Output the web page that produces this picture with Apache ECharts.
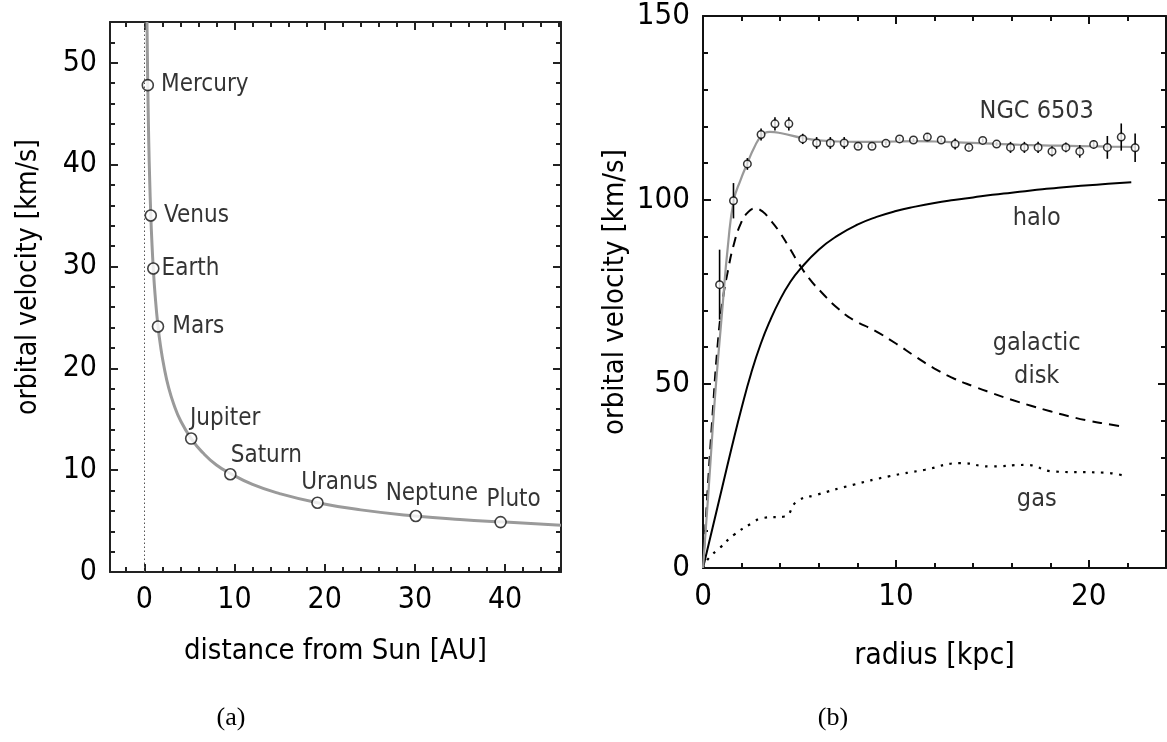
<!DOCTYPE html>
<html>
<head>
<meta charset="utf-8">
<script src="https://cdn.jsdelivr.net/npm/echarts@6/dist/echarts.min.js"></script>
<style>
html,body{margin:0;padding:0;background:#fff;}
#chart{width:1167px;height:742px;}
</style>
</head>
<body>
<div id="chart"></div>
<script>
// ---------- Panel (a): Solar system ----------
const planetNames = ['Mercury','Venus','Earth','Mars','Jupiter','Saturn','Uranus','Neptune','Pluto'];
const planetDist  = [0.39, 0.72, 1.0, 1.52, 5.2, 9.54, 19.2, 30.1, 39.5];   // AU
const planetVel   = [47.8, 35.0, 29.8, 24.1, 13.1, 9.6, 6.8, 5.5, 4.9];     // km/s

const keplerDist = [0.30,0.35,0.40,0.50,0.60,0.72,0.85,1.0,1.2,1.5,1.8,2.2,2.7,3.3,4.0,5.2,6.5,8.0,9.5,12,15,19.2,24,30,35,40,46.2];
const keplerVel  = [54.0,50.4,47.1,42.1,38.5,35.1,32.3,29.8,27.2,24.3,22.2,20.1,18.1,16.4,14.9,13.1,11.7,10.5,9.7,8.6,7.7,6.8,6.1,5.5,5.15,4.9,4.6];

const aXMajor = [0,10,20,30,40];
const aXMinor = [-2,2,4,6,8,12,14,16,18,22,24,26,28,32,34,36,38,42,44,46];
const aYMajor = [0,10,20,30,40,50];
const aYMinor = [2,4,6,8,12,14,16,18,22,24,26,28,32,34,36,38,42,44,46,48,52];

// ---------- Panel (b): NGC 6503 ----------
const ngcRadius = [0.86,1.58,2.30,3.01,3.73,4.45,5.17,5.89,6.60,7.32,8.04,8.76,9.48,10.19,10.91,11.63,12.35,13.07,13.78,14.50,15.22,15.94,16.66,17.37,18.09,18.81,19.53,20.25,20.96,21.68,22.40];
const ngcVel    = [77.0,99.8,109.8,117.8,120.7,120.7,116.6,115.5,115.5,115.5,114.6,114.6,115.4,116.6,116.3,117.1,116.3,115.2,114.3,116.2,115.2,114.3,114.3,114.3,113.2,114.3,113.2,115.1,114.3,117.1,114.2];
const ngcErr    = [9.5,4.8,1.6,1.6,1.8,1.8,1.4,1.6,1.6,1.6,0.5,0.5,0.5,0.5,0.5,1.1,0.5,1.5,0.5,0.5,0.5,1.5,1.5,1.5,1.4,1.3,1.7,1.1,3.1,3.7,3.9];

const fitRadius = [0,0.3,0.6,0.98,1.3,1.6,1.95,2.3,2.65,3.03,3.47,4.0,5.2,6,7,8,9,10,11,12,13,14,15,16,17,18,19,20,21,22.4];
const fitVel    = [0,22,45,69,88,100,105.5,110,114.2,117.4,118.5,118.2,116.8,116.2,115.9,115.8,115.8,115.9,116,115.9,115.7,115.5,115.3,115.1,114.9,114.8,114.7,114.6,114.5,114.4];

const haloRadius = [0,0.5,1,1.5,2,2.5,3,3.5,4,4.5,5,6,7,8,9,10,11,12,13,14,15,16,17,18,19,20,21,22.2];
const haloVel    = [0,11,22,33,43.5,53,61,67.5,73,77.5,81,86.5,90.4,93.3,95.4,97,98.2,99.2,100,100.7,101.4,102,102.6,103.1,103.6,104,104.4,104.8];

const diskRadius = [0,0.25,0.5,0.75,1.0,1.3,1.6,1.95,2.3,2.7,3.1,3.5,3.9,4.4,4.9,5.5,6.2,7.0,7.8,8.9,10,11,12,13,14,15,16,17,18,19,20,21,21.7];
const diskVel    = [0,22,42,60,72,81,88,93.5,96.5,97.7,96.8,94.5,91.8,87.7,83.3,78.7,74.6,70.5,67.4,64.5,61,57.5,54.2,51.5,49.4,47.5,45.7,44.1,42.6,41.2,40,39.1,38.5];

const gasRadius = [0,0.3,0.86,1.6,2.54,3.1,4.22,4.87,5.9,7.77,9.63,11.5,13.37,14.86,16.73,18.22,20.84,21.96];
const gasVel    = [0,2.7,5.4,9.0,12.2,13.6,14.0,18.1,19.9,22.6,24.9,26.7,28.5,27.6,28.0,26.2,25.9,24.9];

const bXMajor = [0,10,20];
const bXMinor = [2,4,6,8,12,14,16,18,22,24];
const bYMajor = [0,50,100,150];
const bYMinor = [10,20,30,40,60,70,80,90,110,120,130,140];

const annoText   = ['NGC 6503','halo','galactic','disk','gas'];
const annoRadius = [17.3,17.3,17.3,17.3,17.3];
const annoVel    = [124,95,61.1,52,18.5];

// ---------- styling / layout ----------
const FONT = "'DejaVu Sans Condensed','Liberation Sans Narrow','Arial Narrow',sans-serif";
const TXT = '#000';

function axisSet(kind, grid, min, max, majors, minors, opt) {
  const base = {type:'value', gridIndex:grid, min:min, max:max, scale:false,
    splitLine:{show:false}, splitArea:{show:false}, axisPointer:{show:false}, silent:true};
  const pos = kind === 'x' ? ['bottom','top'] : ['left','right'];
  const line = {show:true, onZero:false, lineStyle:{color:opt.color, width:2}};
  const majTick = {show:true, inside:true, length:opt.majLen, customValues:majors, lineStyle:{color:opt.color, width:2}};
  const minTick = {show:true, inside:true, length:opt.minLen, customValues:minors, lineStyle:{color:opt.color, width:2}};
  return [
    Object.assign({}, base, {position:pos[0], axisLine:line, axisTick:majTick,
      axisLabel:{show:true, customValues:majors, fontSize:opt.labelSize, fontFamily:FONT, color:TXT, margin:opt.labelMargin},
      name:opt.name, nameLocation:'middle', nameGap:opt.nameGap,
      nameTextStyle:{fontSize:opt.nameSize, fontFamily:FONT, color:TXT, padding:opt.namePadding || 0}}),
    Object.assign({}, base, {position:pos[0], axisLine:{show:false, onZero:false}, axisTick:minTick, axisLabel:{show:false}}),
    Object.assign({}, base, {position:pos[1], axisLine:line, axisTick:majTick, axisLabel:{show:false}}),
    Object.assign({}, base, {position:pos[1], axisLine:{show:false, onZero:false}, axisTick:minTick, axisLabel:{show:false}})
  ];
}

const xAxes = [].concat(
  axisSet('x', 0, -3.8, 46.2, aXMajor, aXMinor, {color:'#222', majLen:8, minLen:5, labelSize:30, labelMargin:13, name:'distance from Sun [AU]', nameGap:65, nameSize:29}),
  axisSet('x', 1, 0, 24, bXMajor, bXMinor, {color:'#111', majLen:8, minLen:5, labelSize:31, labelMargin:13, name:'radius [kpc]', nameGap:73, nameSize:30})
);
const yAxes = [].concat(
  axisSet('y', 0, 0, 54, aYMajor, aYMinor, {color:'#222', majLen:8, minLen:5, labelSize:30, labelMargin:13, name:'orbital velocity [km/s]', nameGap:67, nameSize:28, namePadding:[0,0,0,40]}),
  axisSet('y', 1, 0, 150, bYMajor, bYMinor, {color:'#111', majLen:8, minLen:5, labelSize:31, labelMargin:13, name:'orbital velocity [km/s]', nameGap:73, nameSize:29})
);

// label placement for the planet names
const planetLabelPlacement = {
  Mercury:{position:'right', distance:7},
  Venus:{position:'right', distance:7},
  Earth:{position:'right', distance:2},
  Mars:{position:'right', distance:8},
  Jupiter:{position:'inside', offset:[34,-20]},
  Saturn:{position:'inside', offset:[36,-18]},
  Uranus:{position:'inside', offset:[22,-20]},
  Neptune:{position:'inside', offset:[16,-22]},
  Pluto:{position:'inside', offset:[13,-22]}
};

const pairs = (xs, ys) => xs.map((x, i) => [x, ys[i]]);

const option = {
  animation:false,
  backgroundColor:'#fff',
  grid:[
    {left:110, top:22, width:451, height:550, containLabel:false},
    {left:703, top:16, width:463, height:552, containLabel:false}
  ],
  xAxis:xAxes,
  yAxis:yAxes,
  graphic:[
    {type:'text', x:231, y:718, style:{text:'(a)', fill:'#000', font:"26px 'Liberation Serif','DejaVu Serif',serif", align:'center', verticalAlign:'middle'}},
    {type:'text', x:833, y:718, style:{text:'(b)', fill:'#000', font:"26px 'Liberation Serif','DejaVu Serif',serif", align:'center', verticalAlign:'middle'}}
  ],
  series:[
    // ---- panel (a)
    {type:'line', xAxisIndex:0, yAxisIndex:0, data:pairs(keplerDist, keplerVel),
     showSymbol:false, smooth:0.5, lineStyle:{color:'#9a9a9a', width:3}, z:2, silent:true,
     markLine:{silent:true, symbol:'none', label:{show:false}, animation:false,
       lineStyle:{color:'#555', type:[1.5,2.5], width:1}, data:[{xAxis:0}]}},
    {type:'scatter', xAxisIndex:0, yAxisIndex:0, z:4, symbol:'circle', symbolSize:11,
     itemStyle:{color:'#fff', borderColor:'#111', borderWidth:1.6},
     data:planetNames.map((n, i) => ({value:[planetDist[i], planetVel[i]], name:n,
       label:Object.assign({show:true, formatter:n, fontSize:24, fontFamily:FONT, color:TXT}, planetLabelPlacement[n])}))},
    // ---- panel (b)
    {type:'line', xAxisIndex:4, yAxisIndex:4, data:pairs(gasRadius, gasVel), showSymbol:false, smooth:0.5,
     lineStyle:{color:'#000', width:2.2, type:[2.5,6.5]}, z:2, silent:true},
    {type:'line', xAxisIndex:4, yAxisIndex:4, data:pairs(diskRadius, diskVel), showSymbol:false, smooth:0.5,
     lineStyle:{color:'#000', width:2, type:[10,7]}, z:2, silent:true},
    {type:'line', xAxisIndex:4, yAxisIndex:4, data:pairs(haloRadius, haloVel), showSymbol:false, smooth:0.5,
     lineStyle:{color:'#000', width:2}, z:2, silent:true},
    {type:'line', xAxisIndex:4, yAxisIndex:4, data:pairs(fitRadius, fitVel), showSymbol:false, smooth:0.5,
     lineStyle:{color:'#999', width:2.2}, z:3, silent:true},
    {type:'custom', xAxisIndex:4, yAxisIndex:4, z:4, silent:true,
     data:ngcRadius.map((r, i) => [r, ngcVel[i] - ngcErr[i], ngcVel[i] + ngcErr[i]]),
     renderItem:function(params, api){
       const p1 = api.coord([api.value(0), api.value(1)]);
       const p2 = api.coord([api.value(0), api.value(2)]);
       return {type:'line', shape:{x1:p1[0], y1:p1[1], x2:p2[0], y2:p2[1]}, style:{stroke:'#000', lineWidth:1.6}};
     }},
    {type:'scatter', xAxisIndex:4, yAxisIndex:4, z:5, symbol:'circle', symbolSize:7.5, silent:true,
     itemStyle:{color:'#fff', borderColor:'#000', borderWidth:1.5}, data:pairs(ngcRadius, ngcVel)},
    {type:'scatter', xAxisIndex:4, yAxisIndex:4, z:5, symbolSize:0, silent:true,
     data:annoText.map((t, i) => ({value:[annoRadius[i], annoVel[i]], name:t})),
     label:{show:true, position:'inside', formatter:p => p.name, fontSize:25, fontFamily:FONT, color:TXT}}
  ]
};

const chart = echarts.init(document.getElementById('chart'), null, {renderer:'canvas', width:1167, height:742});
chart.setOption(option);
</script>
</body>
</html>
